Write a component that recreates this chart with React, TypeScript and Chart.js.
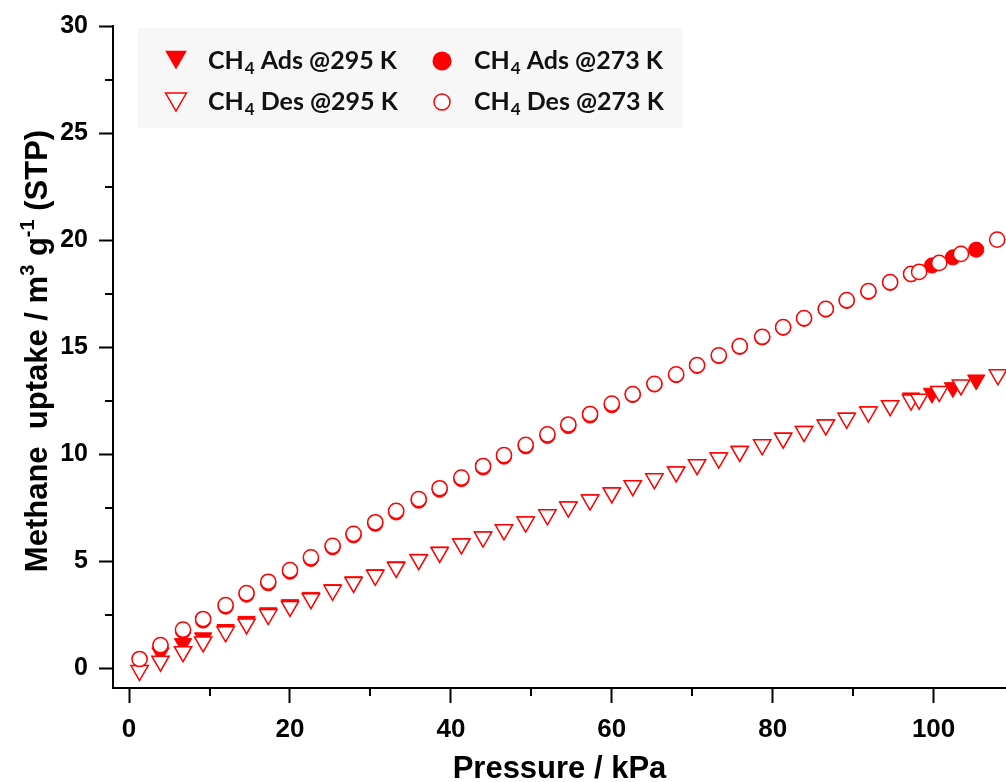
import React, { useEffect, useRef } from "react";
import { Chart, registerables } from "chart.js";

Chart.register(...registerables);

// ---------- data ----------
const pressure273Des = [1.3, 3.9, 6.7, 9.2, 12.0, 14.6, 17.3, 20.0, 22.6, 25.3, 27.9, 30.6, 33.2, 36.0, 38.6, 41.3, 44.0, 46.6, 49.3, 52.0, 54.6, 57.3, 60.0, 62.6, 65.3, 68.0, 70.6, 73.3, 75.9, 78.7, 81.3, 83.9, 86.6, 89.2, 91.9, 94.6, 97.2, 98.2, 100.7, 103.4, 107.9];
const uptake273Des = [0.42, 1.07, 1.79, 2.29, 2.94, 3.50, 4.03, 4.57, 5.17, 5.71, 6.27, 6.81, 7.34, 7.89, 8.40, 8.90, 9.44, 9.95, 10.43, 10.92, 11.38, 11.87, 12.35, 12.80, 13.28, 13.72, 14.15, 14.61, 15.04, 15.48, 15.93, 16.35, 16.78, 17.19, 17.61, 18.03, 18.42, 18.51, 18.93, 19.35, 20.02];

const pressure273Ads = [3.9, 6.7, 9.2, 12.0, 14.6, 17.3, 20.0, 22.6, 25.3, 27.9, 30.6, 33.2, 36.0, 38.6, 41.3, 44.0, 46.6, 49.3, 52.0, 54.6, 57.3, 60.0, 62.6, 65.3, 68.0, 70.6, 73.3, 75.9, 78.7, 81.3, 83.9, 86.6, 89.2, 91.9, 94.6, 97.2, 99.8, 102.4, 105.3];
const uptake273Ads = [1.00, 1.72, 2.22, 2.87, 3.43, 3.96, 4.50, 5.10, 5.64, 6.20, 6.74, 7.27, 7.82, 8.33, 8.83, 9.37, 9.88, 10.36, 10.85, 11.31, 11.80, 12.28, 12.76, 13.25, 13.69, 14.12, 14.58, 15.01, 15.45, 15.90, 16.32, 16.75, 17.16, 17.58, 18.00, 18.40, 18.81, 19.19, 19.55];

const pressure295Des = [1.3, 3.9, 6.7, 9.2, 12.0, 14.6, 17.3, 20.0, 22.6, 25.3, 27.9, 30.6, 33.2, 36.0, 38.6, 41.3, 44.0, 46.6, 49.3, 52.0, 54.6, 57.3, 60.0, 62.6, 65.3, 68.0, 70.6, 73.3, 75.9, 78.7, 81.3, 83.9, 86.6, 89.2, 91.9, 94.6, 97.2, 98.2, 100.7, 103.4, 108.0];
const uptake295Des = [-0.12, 0.32, 0.76, 1.22, 1.69, 2.06, 2.50, 2.88, 3.24, 3.63, 4.00, 4.33, 4.70, 5.06, 5.40, 5.80, 6.12, 6.46, 6.82, 7.16, 7.52, 7.85, 8.18, 8.52, 8.84, 9.16, 9.50, 9.81, 10.12, 10.43, 10.74, 11.05, 11.36, 11.67, 11.96, 12.26, 12.52, 12.56, 12.92, 13.23, 13.70];

const pressure295Ads = [3.9, 6.7, 9.2, 12.0, 14.6, 17.3, 20.0, 22.6, 25.3, 27.9, 30.6, 33.2, 36.0, 38.6, 41.3, 44.0, 46.6, 49.3, 52.0, 54.6, 57.3, 60.0, 62.6, 65.3, 68.0, 70.6, 73.3, 75.9, 78.7, 81.3, 83.9, 86.6, 89.2, 91.9, 94.6, 97.2, 99.8, 102.4, 105.3];
const uptake295Ads = [0.71, 1.14, 1.41, 1.80, 2.18, 2.58, 2.96, 3.30, 3.66, 4.03, 4.36, 4.73, 5.08, 5.42, 5.81, 6.13, 6.47, 6.83, 7.17, 7.53, 7.86, 8.19, 8.53, 8.85, 9.17, 9.51, 9.82, 10.13, 10.44, 10.75, 11.06, 11.37, 11.68, 11.97, 12.27, 12.62, 12.84, 13.10, 13.46];

const xTickValues = [0, 20, 40, 60, 80, 100];
const xMinorTickValues = [10, 30, 50, 70, 90];
const yTickValues = [0, 5, 10, 15, 20, 25, 30];
const yMinorTickValues = [2.5, 7.5, 12.5, 17.5, 22.5, 27.5];

const legendTemps = ["295 K", "273 K"];
const legendModes = ["Ads", "Des"];
const xTitle = "Pressure / kPa";
const yTitleParts = [
  { t: "Methane  uptake / m", sup: false },
  { t: "3", sup: true },
  { t: " g", sup: false },
  { t: "-1", sup: true },
  { t: " (STP)", sup: false },
];

// ---------- styles ----------
const RED = "#ff0000";
const AXIS_FONT = "'Liberation Sans', Arial, sans-serif";
const LEGEND_FONT = "Lato, 'Open Sans', sans-serif";

function pts(xs: number[], ys: number[]) {
  return xs.map((x, i) => ({ x, y: ys[i] }));
}

function drawTriangleDown(ctx: CanvasRenderingContext2D, x: number, y: number, r: number, filled: boolean) {
  ctx.beginPath();
  for (let k = 0; k < 3; k++) {
    const a = Math.PI + (k * 2 * Math.PI) / 3;
    const px = x + Math.sin(a) * r;
    const py = y - Math.cos(a) * r;
    if (k === 0) ctx.moveTo(px, py);
    else ctx.lineTo(px, py);
  }
  ctx.closePath();
  if (filled) {
    ctx.fillStyle = RED;
    ctx.fill();
  } else {
    ctx.fillStyle = "#fff";
    ctx.fill();
    ctx.strokeStyle = RED;
    ctx.lineWidth = 1.5;
    ctx.stroke();
  }
}

function drawCircle(ctx: CanvasRenderingContext2D, x: number, y: number, r: number, filled: boolean) {
  ctx.beginPath();
  ctx.arc(x, y, r, 0, Math.PI * 2);
  if (filled) {
    ctx.fillStyle = RED;
    ctx.fill();
  } else {
    ctx.fillStyle = "#fff";
    ctx.fill();
    ctx.strokeStyle = RED;
    ctx.lineWidth = 1.5;
    ctx.stroke();
  }
}

function drawLegendText(ctx: CanvasRenderingContext2D, x: number, baseline: number, rest: string) {
  ctx.fillStyle = "#111";
  ctx.textBaseline = "alphabetic";
  ctx.textAlign = "left";
  ctx.font = `bold 25px ${LEGEND_FONT}`;
  ctx.fillText("CH", x, baseline);
  let cx = x + ctx.measureText("CH").width + 1;
  ctx.font = `bold 17px ${LEGEND_FONT}`;
  ctx.fillText("4", cx, baseline + 5);
  cx += ctx.measureText("4").width;
  ctx.font = `bold 25px ${LEGEND_FONT}`;
  ctx.fillText(rest, cx, baseline);
}

const decorPlugin = {
  id: "decor",
  afterDraw(chart: any) {
    const { ctx, chartArea } = chart;
    const xs = chart.scales.x;
    const ys = chart.scales.y;
    ctx.save();
    // minor ticks
    ctx.strokeStyle = "#000";
    ctx.lineWidth = 2;
    xMinorTickValues.forEach((v) => {
      const px = Math.round(xs.getPixelForValue(v));
      ctx.beginPath();
      ctx.moveTo(px, chartArea.bottom);
      ctx.lineTo(px, chartArea.bottom + 8);
      ctx.stroke();
    });
    yMinorTickValues.forEach((v) => {
      const py = Math.round(ys.getPixelForValue(v));
      ctx.beginPath();
      ctx.moveTo(chartArea.left, py);
      ctx.lineTo(chartArea.left - 8, py);
      ctx.stroke();
    });

    // y title with superscripts
    const main = `bold 31px ${AXIS_FONT}`;
    const sup = `bold 20px ${AXIS_FONT}`;
    let total = 0;
    yTitleParts.forEach((p) => {
      ctx.font = p.sup ? sup : main;
      total += ctx.measureText(p.t).width;
    });
    ctx.translate(47, 351);
    ctx.rotate(-Math.PI / 2);
    ctx.fillStyle = "#000";
    ctx.textBaseline = "alphabetic";
    ctx.textAlign = "left";
    let cx = -total / 2;
    yTitleParts.forEach((p) => {
      ctx.font = p.sup ? sup : main;
      ctx.fillText(p.t, cx, p.sup ? -13 : 0);
      cx += ctx.measureText(p.t).width;
    });
    ctx.restore();

    // legend
    ctx.save();
    ctx.fillStyle = "#f7f7f7";
    ctx.fillRect(138, 28, 545, 100);
    drawTriangleDown(ctx, 176, 57, 12.5, true);
    drawTriangleDown(ctx, 176, 99, 12, false);
    drawCircle(ctx, 442, 61, 9.5, true);
    drawCircle(ctx, 442, 102, 8, false);
    drawLegendText(ctx, 208, 69, ` ${legendModes[0]} @${legendTemps[0]}`);
    drawLegendText(ctx, 208, 110, ` ${legendModes[1]} @${legendTemps[0]}`);
    drawLegendText(ctx, 474, 69, ` ${legendModes[0]} @${legendTemps[1]}`);
    drawLegendText(ctx, 474, 110, ` ${legendModes[1]} @${legendTemps[1]}`);
    ctx.restore();
  },
};

export default function App() {
  const ref = useRef<HTMLCanvasElement>(null);

  useEffect(() => {
    const canvas = ref.current;
    if (!canvas) return;
    const tri = { pointStyle: "triangle", rotation: 180, pointRadius: 10 };
    const circ = { pointStyle: "circle", pointRadius: 7.6 };
    const chart = new Chart(canvas, {
      type: "scatter",
      data: {
        datasets: [
          {
            label: `CH4 ${legendModes[1]} @${legendTemps[1]}`,
            data: pts(pressure273Des, uptake273Des),
            ...circ,
            pointBorderWidth: 1.5,
            pointBorderColor: RED,
            pointBackgroundColor: "#fff",
            order: 0,
            clip: false,
          },
          {
            label: `CH4 ${legendModes[1]} @${legendTemps[0]}`,
            data: pts(pressure295Des, uptake295Des),
            ...tri,
            pointBorderWidth: 1.5,
            pointBorderColor: RED,
            pointBackgroundColor: "#fff",
            order: 0,
            clip: false,
          },
          {
            label: `CH4 ${legendModes[0]} @${legendTemps[1]}`,
            data: pts(pressure273Ads, uptake273Ads),
            ...circ,
            pointBorderWidth: 1,
            pointBorderColor: RED,
            pointBackgroundColor: RED,
            order: 1,
            clip: false,
          },
          {
            label: `CH4 ${legendModes[0]} @${legendTemps[0]}`,
            data: pts(pressure295Ads, uptake295Ads),
            ...tri,
            pointBorderWidth: 1,
            pointBorderColor: RED,
            pointBackgroundColor: RED,
            order: 1,
            clip: false,
          },
        ] as any,
      },
      options: {
        animation: false,
        responsive: false,
        devicePixelRatio: 1,
        layout: { autoPadding: false, padding: { top: 26, left: 0, right: 0, bottom: 0 } },
        plugins: { legend: { display: false }, tooltip: { enabled: false } },
        scales: {
          x: {
            type: "linear",
            min: -2,
            max: 109,
            afterFit: (s: any) => {
              s.height = 94;
            },
            afterBuildTicks: (s: any) => {
              s.ticks = xTickValues.map((v) => ({ value: v }));
            },
            ticks: {
              font: { family: AXIS_FONT, size: 26, weight: "bold" },
              color: "#000",
              padding: 11,
              maxRotation: 0,
              autoSkip: false,
            },
            grid: {
              drawOnChartArea: false,
              drawTicks: true,
              tickLength: 15,
              tickWidth: 2,
              tickColor: "#000",
            },
            border: { display: true, width: 2, color: "#000" },
            title: {
              display: true,
              text: xTitle,
              color: "#000",
              font: { family: AXIS_FONT, size: 31, weight: "bold", lineHeight: 1 },
              padding: { top: 0, bottom: -3 },
            },
          },
          y: {
            type: "linear",
            min: -0.934,
            max: 30,
            afterFit: (s: any) => {
              s.width = 113;
            },
            afterBuildTicks: (s: any) => {
              s.ticks = yTickValues.map((v) => ({ value: v }));
            },
            ticks: {
              font: { family: AXIS_FONT, size: 25, weight: "bold" },
              color: "#000",
              padding: 11,
              autoSkip: false,
            },
            grid: {
              drawOnChartArea: false,
              drawTicks: true,
              tickLength: 14,
              tickWidth: 2,
              tickColor: "#000",
            },
            border: { display: true, width: 2, color: "#000" },
          },
        },
      } as any,
      plugins: [decorPlugin],
    });
    return () => chart.destroy();
  }, []);

  return (
    <div style={{ position: "fixed", left: 0, top: 0, width: 1006, height: 782, background: "#fff" }}>
      <canvas ref={ref} width={1006} height={782} style={{ width: 1006, height: 782, display: "block" }} />
    </div>
  );
}
